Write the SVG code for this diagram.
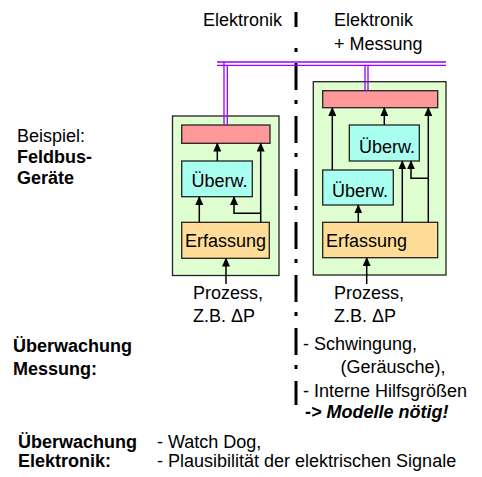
<svg xmlns="http://www.w3.org/2000/svg" width="482" height="477" viewBox="0 0 482 477">
<defs>
<style>
text{font-family:"Liberation Sans",Arial,sans-serif;font-size:18px;fill:#000}
.b{font-weight:bold}
.bi{font-weight:bold;font-style:italic}
.frame{fill:#dfffd0;stroke:#222;stroke-width:1.3}
.out{fill:#ff9999;stroke:#222;stroke-width:1.3}
.mon{fill:#a8fff0;stroke:#222;stroke-width:1.3}
.acq{fill:#ffdd99;stroke:#222;stroke-width:1.3}
.bus{stroke:#9900ff;stroke-width:1.3;fill:none}
.ar{stroke:#000;stroke-width:1.5;fill:none;marker-end:url(#ah)}
.ln{stroke:#000;stroke-width:1.5;fill:none}
.sep{stroke:#000;stroke-width:3;fill:none}
</style>
<marker id="ah" markerUnits="userSpaceOnUse" markerWidth="9" markerHeight="8" refX="8" refY="4" orient="auto" viewBox="0 0 9 8">
<path d="M0,0 L9,4 L0,8 z" fill="#000"/>
</marker>
</defs>

<g id="separator">
<line class="sep" x1="296" y1="12" x2="296" y2="27"/>
<line class="sep" x1="296" y1="48" x2="296" y2="52"/>
<line class="sep" x1="296" y1="63" x2="296" y2="405" stroke-dasharray="27 10 4 12"/>
</g>

<g id="headers">
<text x="203" y="26">Elektronik</text>
<text x="334" y="26">Elektronik</text>
<text x="334" y="50">+ Messung</text>
</g>

<g id="example-label">
<text x="17" y="142">Beispiel:</text>
<text class="b" x="17" y="163">Feldbus-</text>
<text class="b" x="17" y="184">Geräte</text>
</g>

<g id="device-left">
<rect class="frame" x="172.5" y="116" width="106.5" height="159.5"/>
<rect class="out" x="181.7" y="125" width="88.3" height="18.3"/>
<g id="monitor-left">
<rect class="mon" x="181.7" y="161" width="70.6" height="35.7"/>
<text x="191.5" y="186.5">Überw.</text>
</g>
<g id="acq-left">
<rect class="acq" x="181.7" y="222.3" width="87.6" height="36"/>
<text x="185" y="246.5">Erfassung</text>
</g>
</g>

<g id="device-right">
<rect class="frame" x="313.3" y="81.7" width="132.7" height="193.3"/>
<rect class="out" x="322.7" y="90.7" width="115" height="17"/>
<g id="monitor-right-upper">
<rect class="mon" x="349.3" y="125" width="70" height="36"/>
<text x="359" y="152.5">Überw.</text>
</g>
<g id="monitor-right-lower">
<rect class="mon" x="322.7" y="170" width="70.6" height="35"/>
<text x="332" y="196.5">Überw.</text>
</g>
<g id="acq-right">
<rect class="acq" x="322.7" y="222.3" width="115" height="35.4"/>
<text x="326" y="246.5">Erfassung</text>
</g>
</g>

<g id="connectors">
<path class="bus" d="M217,62 H446 M217,65.3 H446"/>
<path class="bus" d="M224,62 V125 M227.3,65.3 V125"/>
<path class="bus" d="M365,65.3 V90.7 M368,65.3 V90.7"/>
<!-- left device -->
<line class="ar" x1="217.3" y1="161" x2="217.3" y2="143.5"/>
<line class="ar" x1="260.7" y1="222.3" x2="260.7" y2="143.5"/>
<path class="ar" d="M260.7,213.3 H234 V197"/>
<line class="ar" x1="199.3" y1="222.3" x2="199.3" y2="197"/>
<line class="ar" x1="226" y1="284" x2="226" y2="258.5"/>
<!-- right device -->
<line class="ar" x1="332.3" y1="170" x2="332.3" y2="108"/>
<line class="ar" x1="384.3" y1="125" x2="384.3" y2="108"/>
<line class="ar" x1="428.3" y1="222.3" x2="428.3" y2="108"/>
<line class="ar" x1="358.3" y1="222.3" x2="358.3" y2="205.3"/>
<line class="ar" x1="402.3" y1="222.3" x2="402.3" y2="161.3"/>
<path class="ar" d="M428.3,178.3 H411 V161.3"/>
<line class="ar" x1="366.7" y1="284" x2="366.7" y2="258"/>
</g>

<g id="process-labels">
<text x="193" y="299">Prozess,</text>
<text x="193" y="322">Z.B. ΔP</text>
<text x="334" y="299">Prozess,</text>
<text x="334" y="322">Z.B. ΔP</text>
</g>

<g id="measurement-notes">
<text class="b" x="13" y="352">Überwachung</text>
<text class="b" x="13" y="375">Messung:</text>
<text x="303" y="350">- Schwingung,</text>
<text x="340.5" y="373">(Geräusche),</text>
<text x="303" y="397">- Interne Hilfsgrößen</text>
<text class="bi" x="305" y="418">-&gt; Modelle nötig!</text>
</g>

<g id="electronics-notes">
<text class="b" x="18" y="448">Überwachung</text>
<text class="b" x="18" y="467">Elektronik:</text>
<text x="157" y="448">- Watch Dog,</text>
<text x="157" y="467">- Plausibilität der elektrischen Signale</text>
</g>
</svg>
